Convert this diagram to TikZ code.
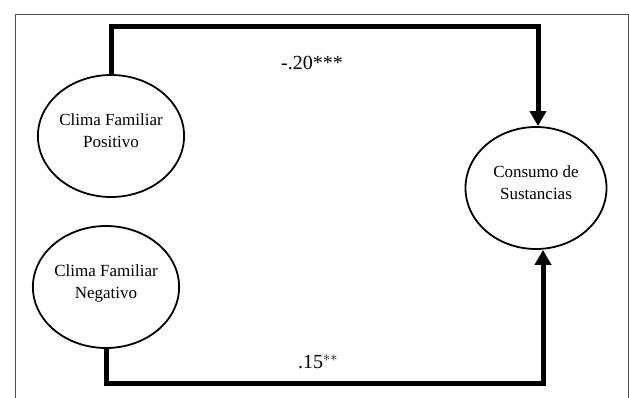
\documentclass[tikz,border=0pt]{standalone}
\usepackage{fontspec}
\setmainfont{Liberation Serif}
\usetikzlibrary{shapes.geometric,arrows.meta}
\begin{document}
\begin{tikzpicture}[x=1pt,y=-1pt,
  var/.style={draw,line width=1.8pt,ellipse,inner sep=0pt,minimum width=142pt,minimum height=122pt,align=center,font=\fontsize{17}{22}\selectfont},
  path/.style={line width=5pt,-{Triangle[width=16pt,length=15pt]}},
  coef/.style={font=\fontsize{20}{22}\selectfont},
  frame/.style={draw=black!70,line width=0.9pt}]
\useasboundingbox (0,0) rectangle (629,398);
\draw[frame] (15,400) -- (15,14) -- (628,14) -- (628,400);
\node[var] (pos) at (111,136) {Clima Familiar\\Positivo\\[-12pt]\mbox{}};
\node[var] (neg) at (106,287) {Clima Familiar\\Negativo\\[-12pt]\mbox{}};
\node[var,minimum width=141pt,minimum height=122pt] (cons) at (536,188) {Consumo de\\Sustancias\\[-12pt]\mbox{}};
\coordinate (tc) at (538,27);
\coordinate (bc) at (543,383);
\draw[path] (pos.north) |- (tc) -- (tc |- cons.north);
\draw[path] (neg.south) |- (bc) -- (bc |- cons.south);
\node[coef] (c1) at (312,63) {-.20***};
\node[coef] (c2) at (318,362) {.15$^{**}$};
\end{tikzpicture}
\end{document}
